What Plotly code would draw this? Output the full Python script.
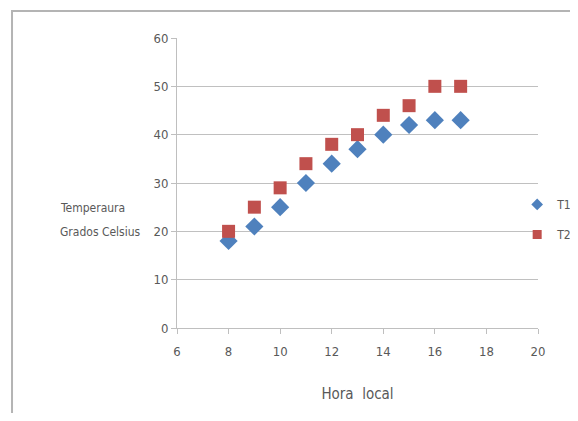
import plotly.graph_objects as go

hours = [8, 9, 10, 11, 12, 13, 14, 15, 16, 17]
t1 = [18, 21, 25, 30, 34, 37, 40, 42, 43, 43]
t2 = [20, 25, 29, 34, 38, 40, 44, 46, 50, 50]

FONT = "DejaVu Sans Condensed, Liberation Sans Narrow, Liberation Sans, sans-serif"
GRAY = "#595959"
BLUE = "#4F81BD"
RED = "#C0504D"

fig = go.Figure()
fig.add_trace(go.Scatter(x=hours, y=t1, mode="markers", name="T1", showlegend=False,
                         marker=dict(symbol="diamond", size=14, color=BLUE)))
fig.add_trace(go.Scatter(x=hours, y=t2, mode="markers", name="T2", showlegend=False,
                         marker=dict(symbol="square", size=13, color=RED)))
# legend entries with small symbols
fig.add_trace(go.Scatter(x=[None], y=[None], mode="markers", name="T1", legendgroup="a",
                         marker=dict(symbol="diamond", size=9, color=BLUE)))
fig.add_trace(go.Scatter(x=[None], y=[None], mode="markers", name="T2", legendgroup="b",
                         marker=dict(symbol="square", size=9, color=RED)))

fig.update_layout(
    width=562, height=405,
    margin=dict(l=169, r=32, t=30, b=85, autoexpand=False),
    paper_bgcolor="white", plot_bgcolor="white",
    font=dict(family=FONT, size=12, color=GRAY),
    showlegend=True,
    legend=dict(xref="container", yref="container", x=0.906, y=0.478,
                xanchor="left", yanchor="middle",
                font=dict(family=FONT, size=12, color=GRAY),
                tracegroupgap=11, itemwidth=30, bgcolor="rgba(0,0,0,0)"),
    xaxis=dict(range=[6, 20], dtick=2, showgrid=False, zeroline=False,
               showline=True, linecolor="#BFBFBF", linewidth=1,
               ticks="outside", ticklen=5, tickcolor="#BFBFBF", ticklabelstandoff=6,
               tickfont=dict(family=FONT, size=13, color=GRAY),
               title=dict(text="Hora  local", font=dict(family=FONT, size=15, color=GRAY), standoff=30)),
    yaxis=dict(range=[0, 60], dtick=10, showgrid=True, gridcolor="#C0C0C0", gridwidth=1,
               zeroline=False, showline=True, linecolor="#BFBFBF", linewidth=1,
               ticks="outside", ticklen=5, tickcolor="#BFBFBF",
               tickfont=dict(family=FONT, size=13, color=GRAY)),
    annotations=[
        dict(text="Temperaura", xref="paper", yref="paper",
             x=-0.3296, y=0.414, xanchor="left", yanchor="middle", showarrow=False,
             align="left", font=dict(family=FONT, size=12, color=GRAY)),
        dict(text="Grados Celsius", xref="paper", yref="paper",
             x=-0.3296, y=0.331, xanchor="left", yanchor="middle", showarrow=False,
             align="left", font=dict(family=FONT, size=12, color=GRAY)),
    ],
    shapes=[dict(type="rect", xref="paper", yref="paper", x0=-0.457, x1=1.2, y0=-0.5, y1=1.093,
                 line=dict(color="#B4B4B4", width=2), layer="below")],
)

fig.write_html("out.html")
